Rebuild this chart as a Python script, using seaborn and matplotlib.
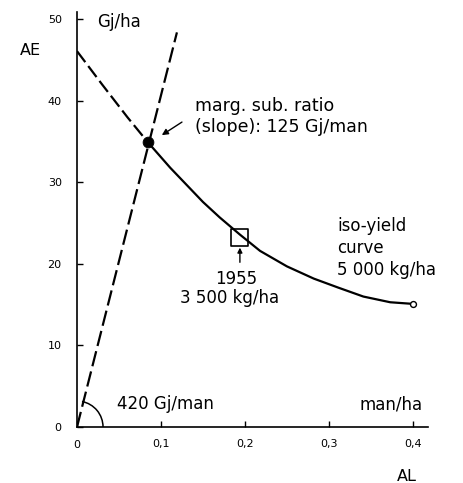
import matplotlib
matplotlib.use("Agg")
import matplotlib.pyplot as plt
from matplotlib.patches import Arc
import seaborn as sns
import pandas as pd
import numpy as np

# ---- data ----
curve_dashed_x = [0.0, 0.030, 0.060, 0.0846]
curve_dashed_y = [46.1, 42.0, 38.0, 34.9]
curve_solid_x = [0.0846, 0.111, 0.150, 0.170, 0.194, 0.218, 0.250, 0.282, 0.311, 0.341, 0.373, 0.400]
curve_solid_y = [34.9, 31.8, 27.6, 25.7, 23.6, 21.6, 19.7, 18.2, 17.1, 16.0, 15.3, 15.1]
ray_x = [0.0, 0.119]
ray_y = [0.0, 48.4]
tangent_point = (0.0846, 34.9)
point_1955 = (0.194, 23.2)
end_point = (0.400, 15.1)

x_ticks = [0, 0.1, 0.2, 0.3, 0.4]
x_tick_labels = ["0", "0,1", "0,2", "0,3", "0,4"]
y_ticks = [0, 10, 20, 30, 40, 50]
y_tick_labels = ["0", "10", "20", "30", "40", "50"]

sns.set_style("ticks")
plt.rcParams["font.family"] = ["DejaVu Sans"]
plt.rcParams["text.color"] = "black"

fig = plt.figure(figsize=(4.64, 4.83), dpi=100)
ax = fig.add_axes([77 / 464, 1 - 427 / 483, (428 - 77) / 464, (427 - 12) / 483])
ax.set_xlim(0, 0.418)
ax.set_ylim(0, 50.9)

lw = 1.6
dashed = pd.DataFrame({"x": curve_dashed_x, "y": curve_dashed_y})
solid = pd.DataFrame({"x": curve_solid_x, "y": curve_solid_y})
ray = pd.DataFrame({"x": ray_x, "y": ray_y})

sns.lineplot(data=dashed, x="x", y="y", ax=ax, color="black", lw=lw,
             linestyle=(0, (6.2, 2.2)), sort=False)
sns.lineplot(data=solid, x="x", y="y", ax=ax, color="black", lw=lw, sort=False)
sns.lineplot(data=ray, x="x", y="y", ax=ax, color="black", lw=lw,
             linestyle=(0, (7.0, 2.4)), sort=False)

sns.scatterplot(x=[tangent_point[0]], y=[tangent_point[1]], ax=ax, color="black",
                s=60, edgecolor="black", zorder=5)
sns.scatterplot(x=[point_1955[0]], y=[point_1955[1]], ax=ax, marker="s",
                facecolor="none", edgecolor="black", linewidth=1.2, s=150, zorder=5)
sns.scatterplot(x=[end_point[0]], y=[end_point[1]], ax=ax, marker="o",
                facecolor="white", edgecolor="black", linewidth=1.0, s=18, zorder=5)

# angle arc at origin (a circle of ~26 px on screen)
rx = 26 / 839
ry = 26 / 8.16
t_end = np.deg2rad(79)
theta_data = np.rad2deg(np.arctan2(ry * np.sin(t_end), rx * np.cos(t_end)))
ax.add_patch(Arc((0, 0), 2 * rx, 2 * ry, theta1=0, theta2=theta_data,
                 edgecolor="black", lw=1.1, zorder=4))

# arrows
ax.annotate("", xy=(0.101, 35.8), xytext=(0.125, 37.4),
            arrowprops=dict(arrowstyle="-|>", color="black", lw=1.0,
                            mutation_scale=9, shrinkA=0, shrinkB=0))
ax.annotate("", xy=(0.194, 22.0), xytext=(0.194, 20.2),
            arrowprops=dict(arrowstyle="-|>", color="black", lw=1.0,
                            mutation_scale=7, shrinkA=0, shrinkB=0))

fs = 12
kw = dict(va="baseline", color="black")
ax.text(0.024, 49.0, "Gj/ha", fontsize=fs, ha="left", **kw)
ax.text(-0.068, 45.6, "AE", fontsize=11.5, ha="left", **kw)
ax.text(0.141, 38.8, "marg. sub. ratio", fontsize=12.5, ha="left", **kw)
ax.text(0.141, 36.2, "(slope): 125 Gj/man", fontsize=12.5, ha="left", **kw)
ax.text(0.310, 24.1, "iso-yield", fontsize=fs, ha="left", **kw)
ax.text(0.310, 21.3, "curve", fontsize=fs, ha="left", **kw)
ax.text(0.310, 18.6, "5 000 kg/ha", fontsize=fs, ha="left", **kw)
ax.text(0.164, 17.6, "1955", fontsize=fs, ha="left", **kw)
ax.text(0.123, 15.2, "3 500 kg/ha", fontsize=fs, ha="left", **kw)
ax.text(0.048, 2.2, "420 Gj/man", fontsize=fs, ha="left", **kw)
ax.text(0.412, 2.1, "man/ha", fontsize=fs, ha="right", **kw)
ax.text(0.381, -6.68, "AL", fontsize=11.5, ha="left", **kw)

ax.set_xticks(x_ticks)
ax.set_xticklabels(x_tick_labels)
ax.set_yticks(y_ticks)
ax.set_yticklabels(y_tick_labels)
ax.set_xlabel("")
ax.set_ylabel("")
ax.tick_params(axis="both", direction="in", length=4, width=1.0, labelsize=8,
               colors="black")
ax.tick_params(axis="x", pad=9)
ax.tick_params(axis="y", pad=11)

sns.despine(ax=ax)
for sp in ("left", "bottom"):
    ax.spines[sp].set_linewidth(1.2)
    ax.spines[sp].set_color("black")

fig.savefig("out.png", dpi=100)
